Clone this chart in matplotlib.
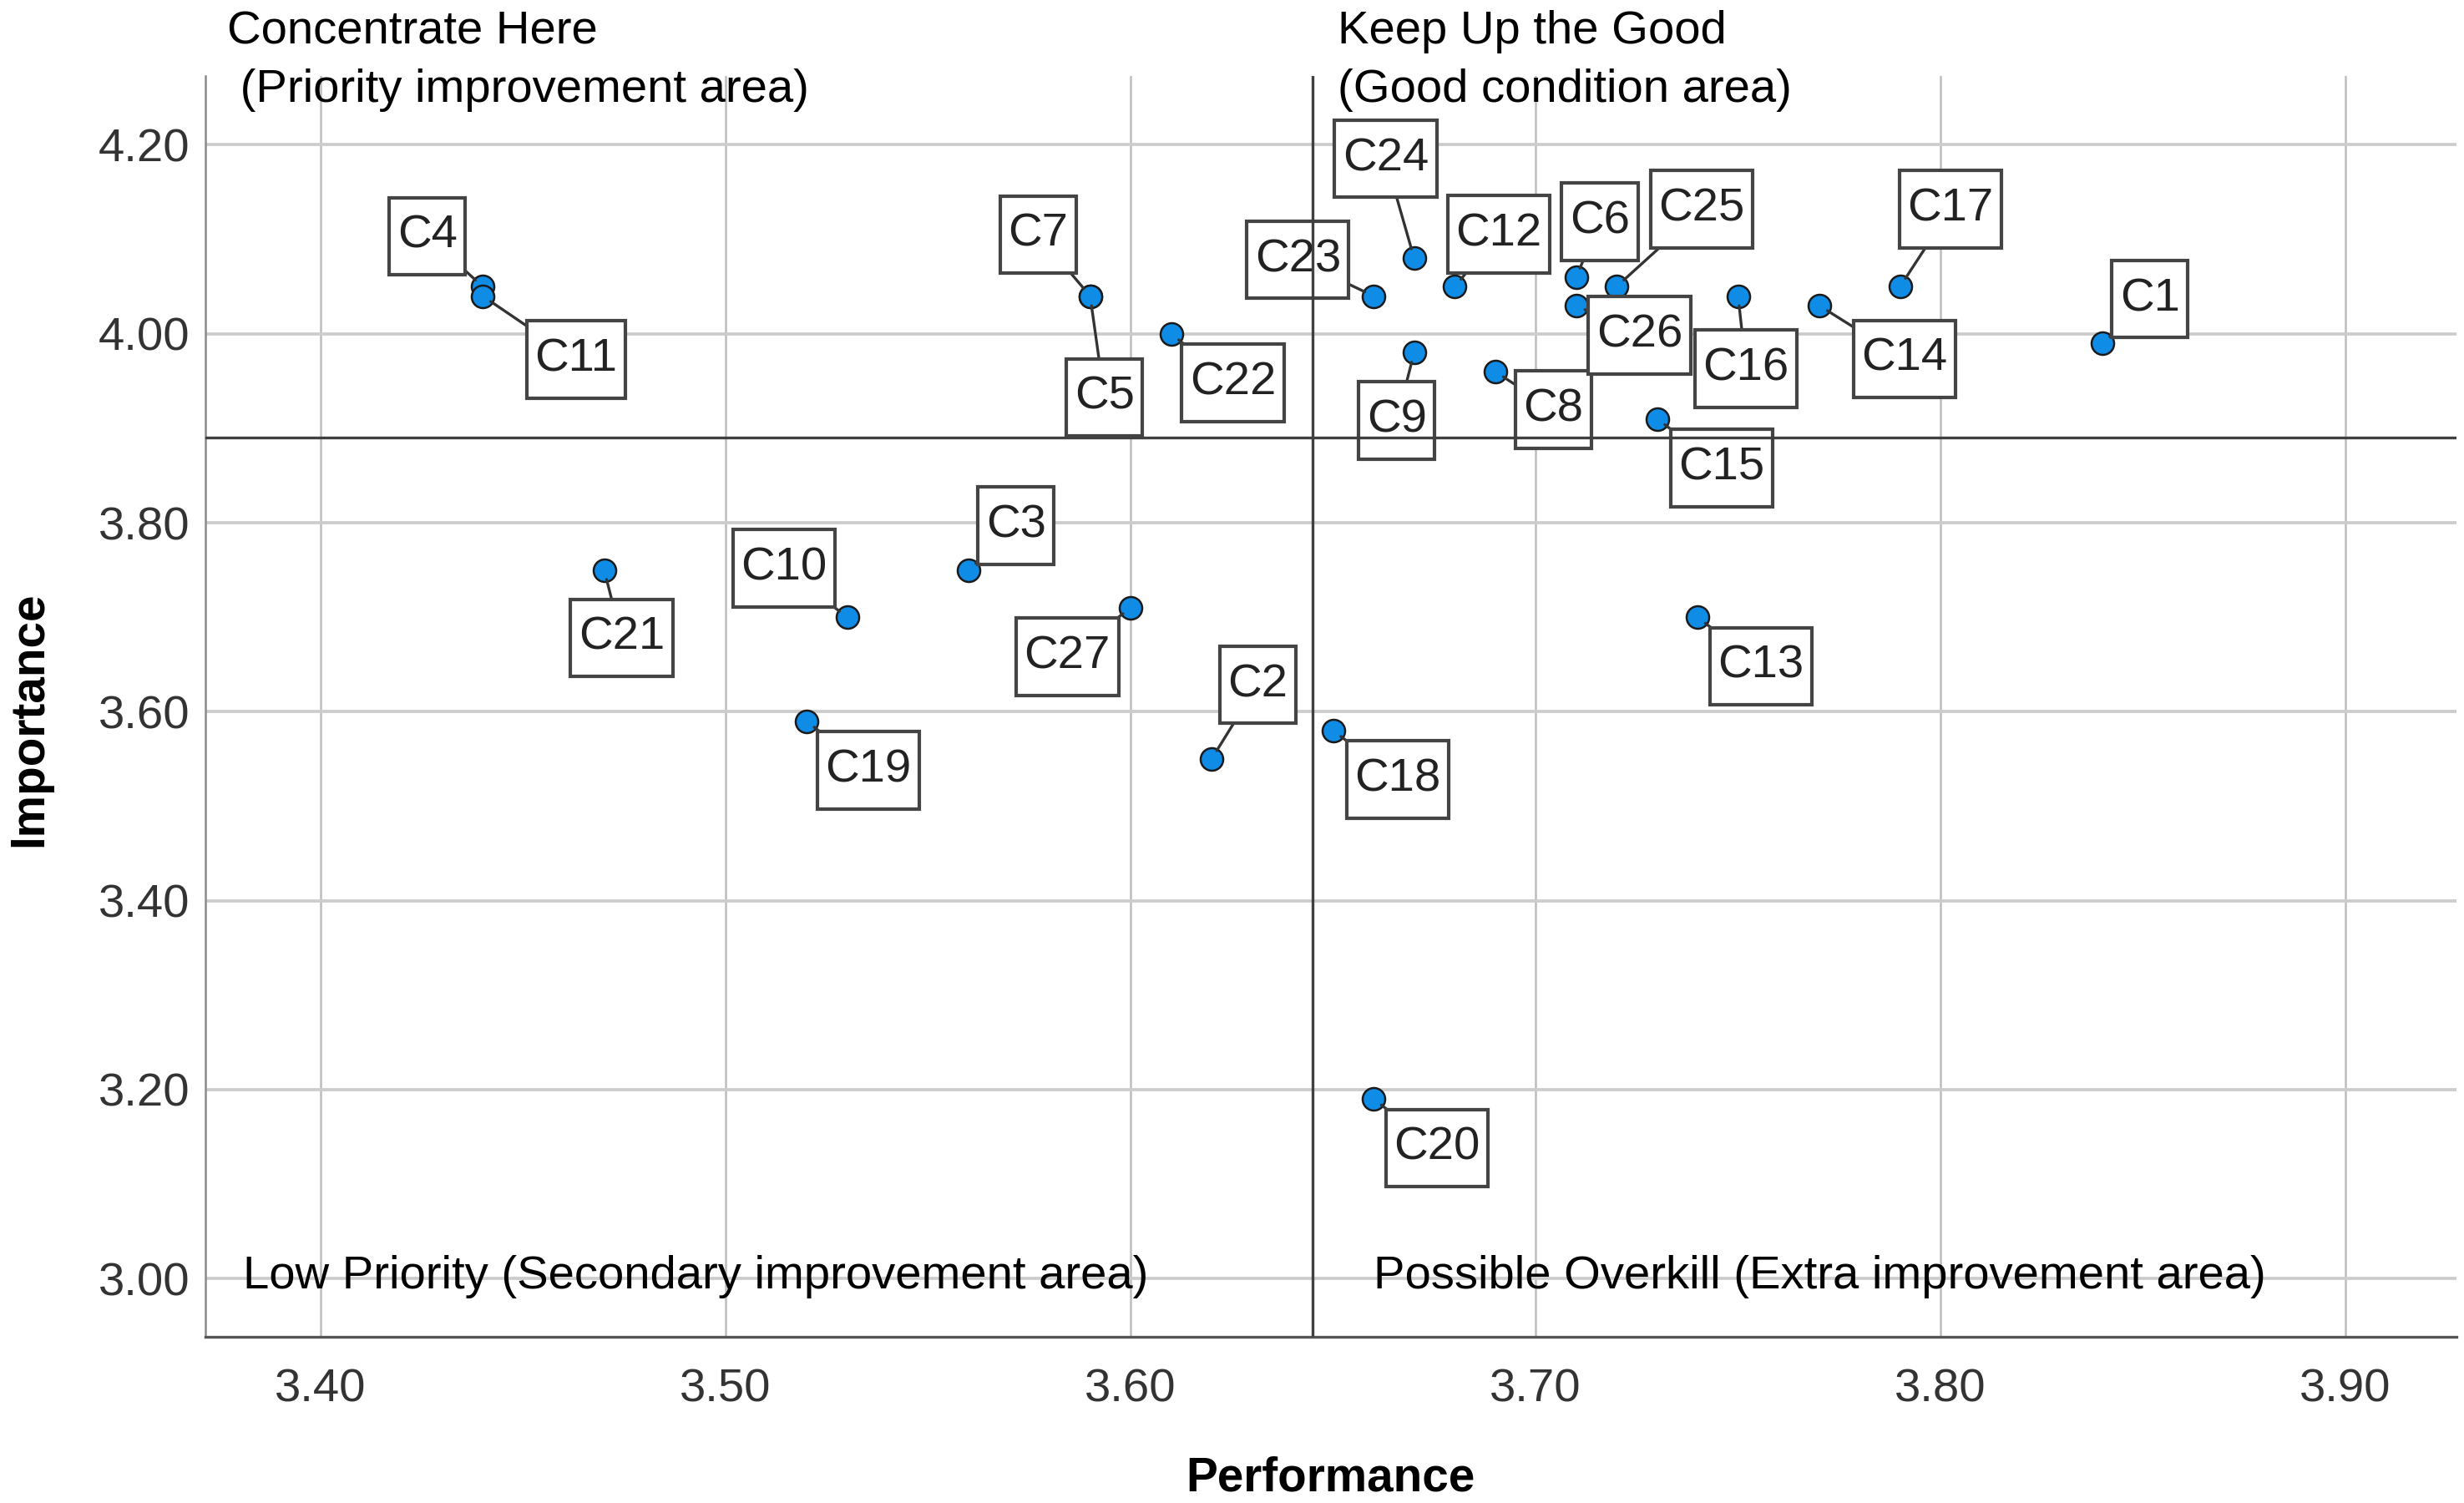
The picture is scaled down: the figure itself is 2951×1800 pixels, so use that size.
import matplotlib
matplotlib.use('Agg')
import matplotlib.pyplot as plt
from matplotlib.path import Path

plt.rcParams['font.family'] = ['Liberation Sans', 'DejaVu Sans']

# IPA data
codes = ['C1', 'C2', 'C3', 'C4', 'C5', 'C6', 'C7', 'C8', 'C9', 'C10',
         'C11', 'C12', 'C13', 'C14', 'C15', 'C16', 'C17', 'C18', 'C19', 'C20',
         'C21', 'C22', 'C23', 'C24', 'C25', 'C26', 'C27']
performance = [3.84, 3.62, 3.56, 3.44, 3.59, 3.71, 3.59, 3.69, 3.67, 3.53,
               3.44, 3.68, 3.74, 3.77, 3.73, 3.75, 3.79, 3.65, 3.52, 3.66,
               3.47, 3.61, 3.66, 3.67, 3.72, 3.71, 3.60]
importance = [3.99, 3.55, 3.75, 4.05, 4.04, 4.06, 4.04, 3.96, 3.98, 3.70,
              4.04, 4.05, 3.70, 4.03, 3.91, 4.04, 4.05, 3.58, 3.59, 3.19,
              3.75, 4.00, 4.04, 4.08, 4.05, 4.03, 3.71]
mean_performance = 3.645
mean_importance = 3.89

x_ticks = [3.40, 3.50, 3.60, 3.70, 3.80, 3.90]
y_ticks = [3.00, 3.20, 3.40, 3.60, 3.80, 4.00, 4.20]

# label box offsets from each point, in points
label_offsets = {
    'C1': (13.6, 12.7), 'C2': (13.2, 21.3), 'C3': (13.6, 12.7), 'C4': (-15.9, 14.5),
    'C5': (4.1, -29.1), 'C6': (6.8, 15.9), 'C7': (-15.0, 17.7), 'C8': (16.8, -10.9),
    'C9': (-5.0, -19.5), 'C10': (-18.2, 14.1), 'C11': (26.8, -18.2), 'C12': (12.7, 15.0),
    'C13': (18.2, -14.1), 'C14': (24.5, -15.4), 'C15': (18.6, -14.1), 'C16': (2.3, -20.9),
    'C17': (14.5, 22.2), 'C18': (18.6, -14.1), 'C19': (17.7, -14.1), 'C20': (18.2, -14.1),
    'C21': (5.0, -19.5), 'C22': (17.7, -14.1), 'C23': (-21.8, 10.4), 'C24': (-8.2, 28.6),
    'C25': (24.5, 22.2), 'C26': (18.2, -8.6), 'C27': (-18.2, -14.1),
}


def tall_box(x0, y0, width, height, mutation_size):
    # SPSS label boxes: little side padding, more above/below
    px = 0.17 * mutation_size
    py = 0.36 * mutation_size
    x0, y0 = x0 - px, y0 - py
    x1, y1 = x0 + width + 2 * px, y0 + height + 2 * py
    return Path([(x0, y0), (x1, y0), (x1, y1), (x0, y1), (x0, y0)], closed=True)


fig = plt.figure(figsize=(2951 / 300, 1800 / 300), dpi=300)
ax = fig.add_axes([0.0833, 0.1104, 0.9135, 0.8391])

ax.set_xlim(3.3715, 3.9273)
ax.set_ylim(2.938, 4.273)
ax.set_xticks(x_ticks)
ax.set_yticks(y_ticks)
ax.set_xticklabels([f'{v:.2f}' for v in x_ticks])
ax.set_yticklabels([f'{v:.2f}' for v in y_ticks])
ax.tick_params(axis='both', length=0, labelsize=13.5, labelcolor='#333333')
ax.tick_params(axis='x', pad=9)
ax.tick_params(axis='y', pad=4.5)

ax.xaxis.grid(True, color='#bdbdbd', linewidth=0.6)
ax.yaxis.grid(True, color='#cccccc', linewidth=0.9)
ax.set_axisbelow(True)

for side in ['top', 'right']:
    ax.spines[side].set_visible(False)
ax.spines['left'].set_color('#8a8a8a')
ax.spines['left'].set_linewidth(0.6)
ax.spines['bottom'].set_color('#555555')
ax.spines['bottom'].set_linewidth(0.8)

ax.axhline(mean_importance, color='#404040', linewidth=0.8, zorder=5)
ax.axvline(mean_performance, color='#404040', linewidth=0.8, zorder=5)

ax.scatter(performance, importance, s=42, c='#0f8ce6', edgecolors='#1a1a1a',
           linewidths=0.6, zorder=3)

for code, px, py in zip(codes, performance, importance):
    ax.annotate(code, (px, py), xytext=label_offsets[code], textcoords='offset points',
                ha='center', va='center', fontsize=13.5, color='#222222', zorder=4,
                bbox=dict(boxstyle=tall_box, facecolor='white',
                          edgecolor='#444444', linewidth=1.0),
                arrowprops=dict(arrowstyle='-', color='#333333', linewidth=0.8,
                                shrinkA=0, shrinkB=2.8))

# quadrant captions
quad_kw = dict(transform=ax.transAxes, fontsize=13.5, color='black', clip_on=False,
               linespacing=1.45)
ax.text(0.0098, 1.052, 'Concentrate Here\n (Priority improvement area)', ha='left', va='top', **quad_kw)
ax.text(0.503, 1.052, 'Keep Up the Good\n(Good condition area)', ha='left', va='top', **quad_kw)
ax.text(0.0168, 0.0476, 'Low Priority (Secondary improvement area)', ha='left', va='center', **quad_kw)
ax.text(0.519, 0.0476, 'Possible Overkill (Extra improvement area)', ha='left', va='center', **quad_kw)

ax.set_xlabel('Performance', fontsize=13.6, fontweight='bold')
ax.set_ylabel('Importance', fontsize=13.6, fontweight='bold')
ax.xaxis.set_label_coords(0.5, -0.094)
ax.yaxis.set_label_coords(-0.068, 0.49)

fig.savefig('out.png', dpi=300)
